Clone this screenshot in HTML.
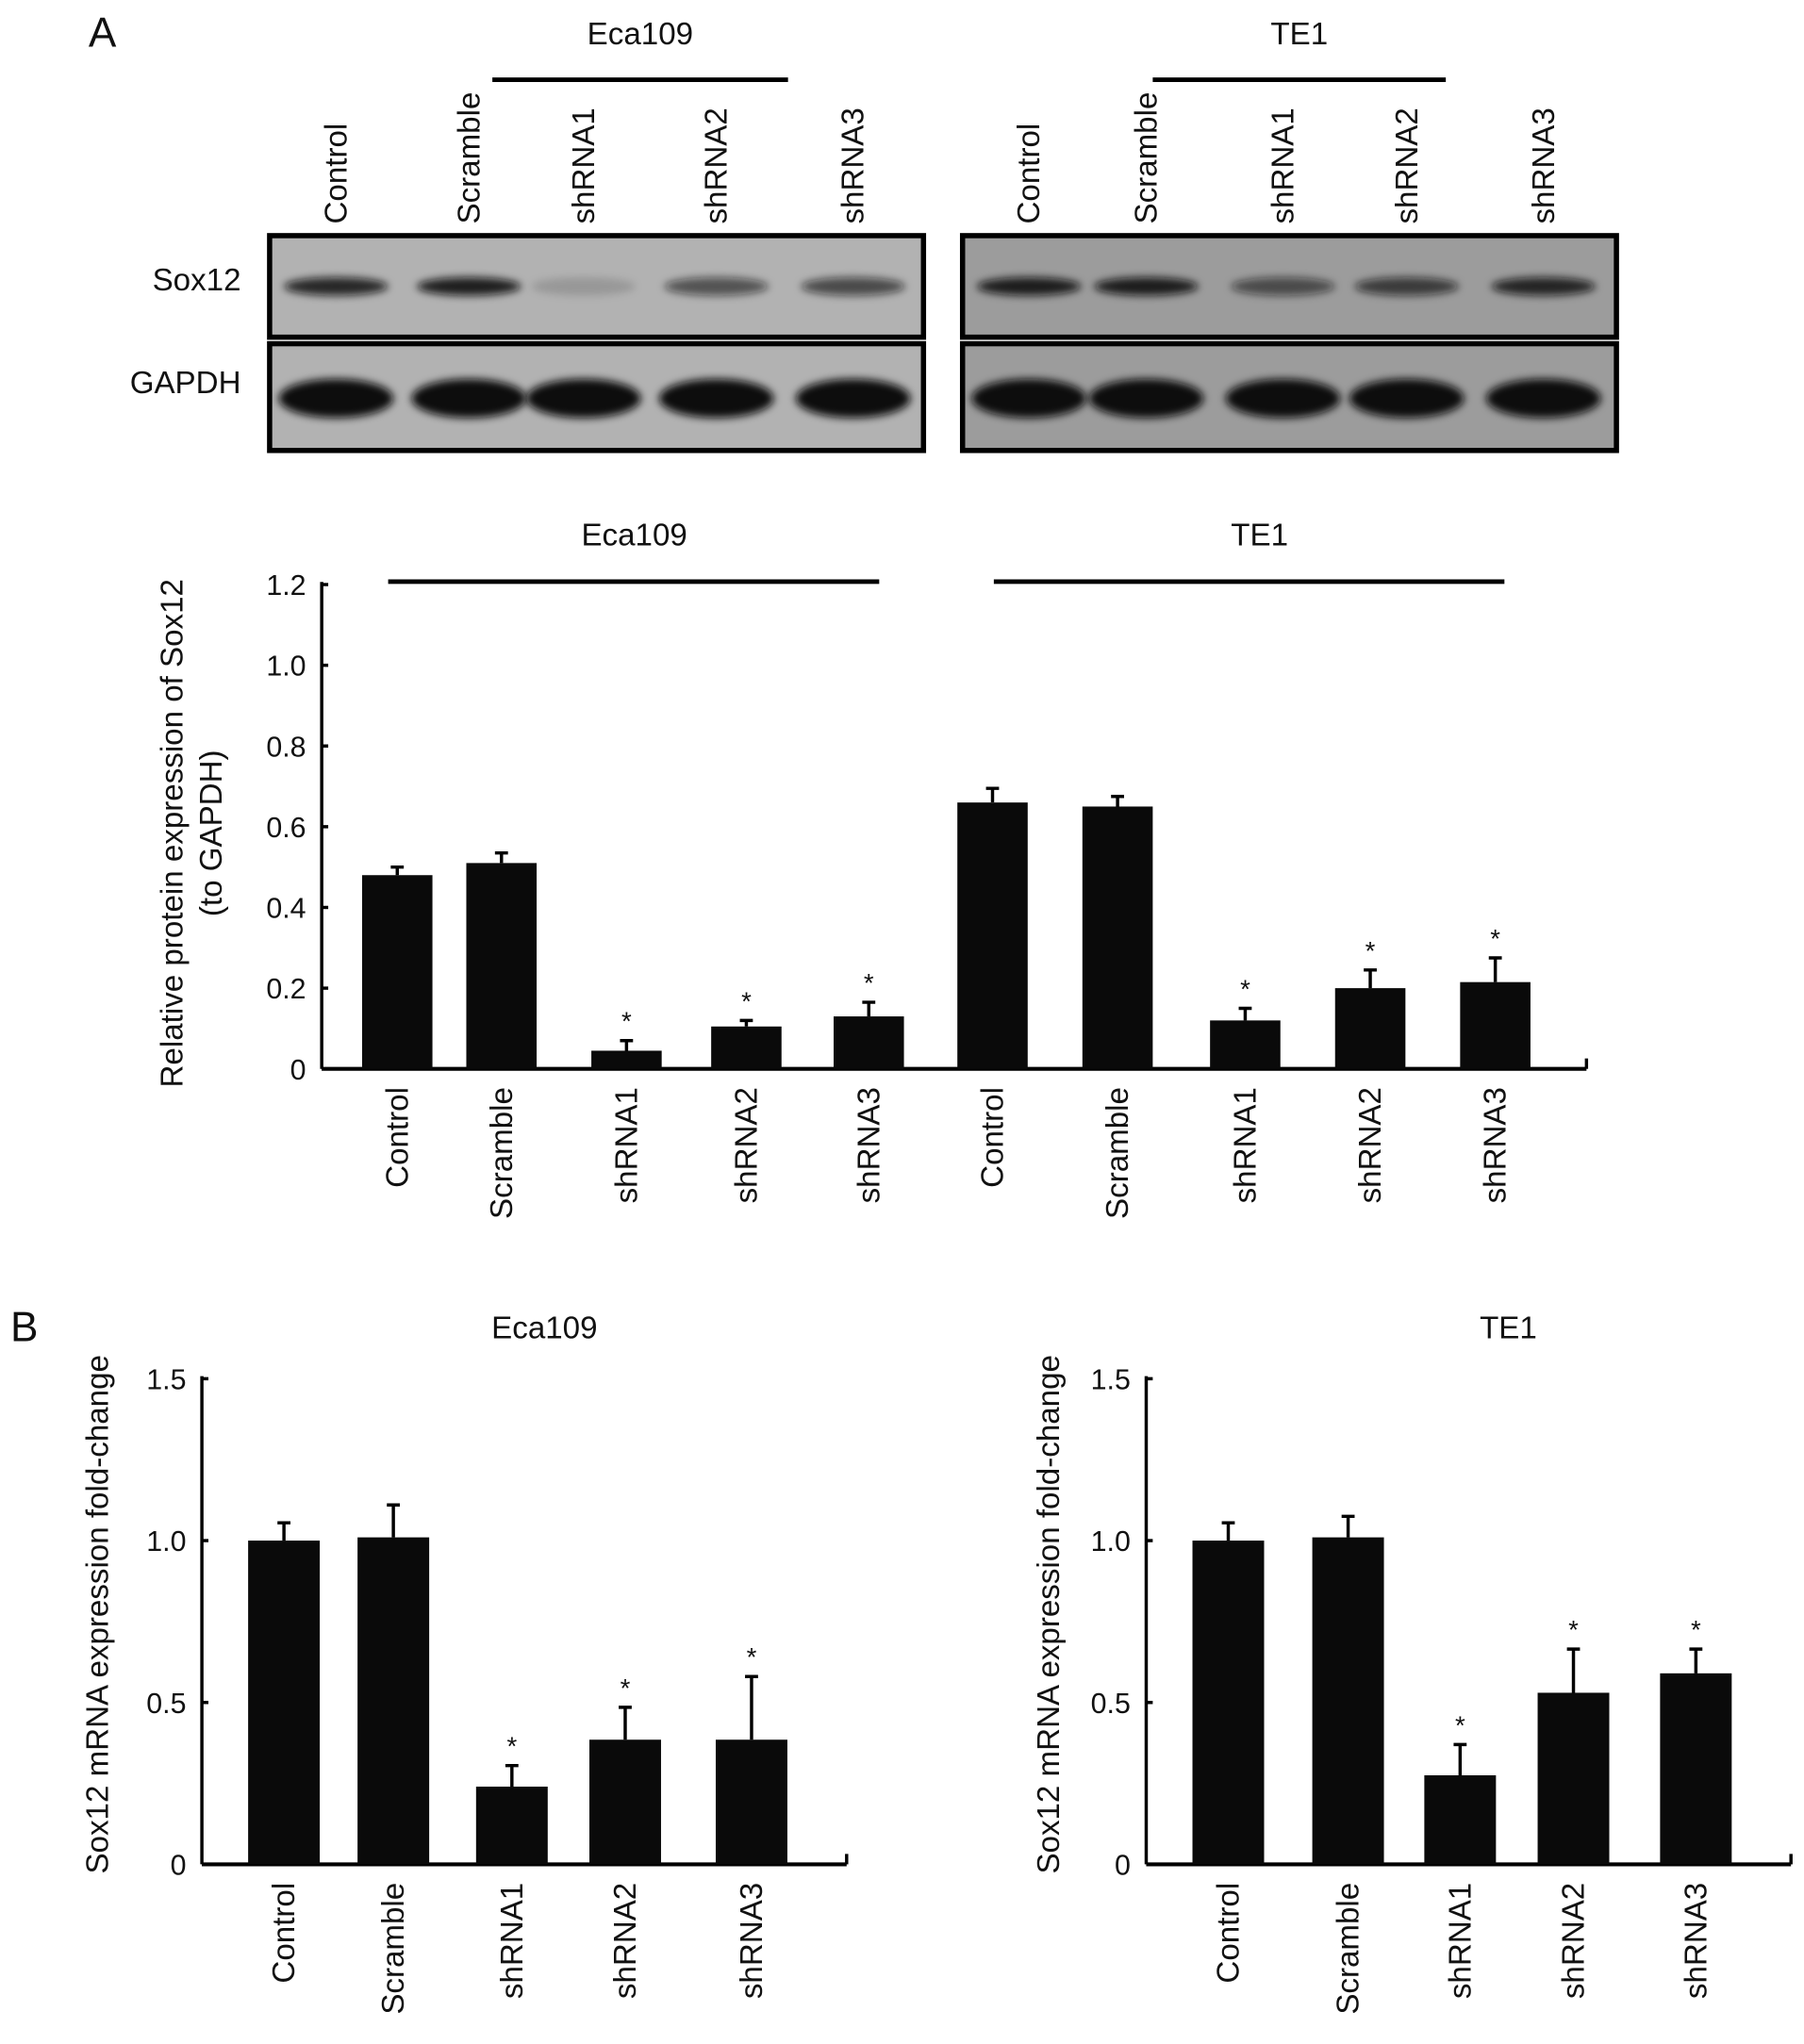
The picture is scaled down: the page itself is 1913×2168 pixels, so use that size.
<!DOCTYPE html>
<html><head><meta charset="utf-8"><style>
html,body{margin:0;padding:0;background:#fff;}
svg{display:block;}
text{font-family:"Liberation Sans",sans-serif;fill:#111;}
</style></head><body>
<svg id="fig" width="1913" height="2168" viewBox="0 0 1385 1570" preserveAspectRatio="none" xmlns="http://www.w3.org/2000/svg">
<defs><filter id="blur" x="-20%" y="-50%" width="140%" height="200%"><feGaussianBlur stdDeviation="3"/></filter></defs>
<g id="root"></g>
</svg>
<script>
const groups = ["Control","Scramble","shRNA1","shRNA2","shRNA3"];
// Panel A (protein) values
const aEcaVals = [0.48,0.51,0.045,0.105,0.13];
const aEcaErr  = [0.02,0.025,0.025,0.015,0.035];
const aTeVals  = [0.66,0.65,0.12,0.20,0.215];
const aTeErr   = [0.035,0.025,0.03,0.045,0.06];
const aTicks = [0,0.2,0.4,0.6,0.8,1.0,1.2];
const aTickLabels = ["0","0.2","0.4","0.6","0.8","1.0","1.2"];
const aSig = [false,false,true,true,true];
// Panel B (mRNA) values
const bEcaVals = [1.0,1.01,0.24,0.385,0.385];
const bEcaErr  = [0.055,0.10,0.065,0.10,0.195];
const bTeVals  = [1.0,1.01,0.275,0.53,0.59];
const bTeErr   = [0.055,0.065,0.095,0.135,0.075];
const bTicks = [0,0.5,1.0,1.5];
const bTickLabels = ["0","0.5","1.0","1.5"];
// Blot intensities (0-1)
const sox12Eca = [0.85,0.9,0.15,0.6,0.65];
const sox12Te = [0.9,0.9,0.6,0.7,0.85];

const NS="http://www.w3.org/2000/svg";
const root=document.getElementById('root');
function el(tag,attrs,parent){const e=document.createElementNS(NS,tag);for(const k in attrs)e.setAttribute(k,attrs[k]);(parent||root).appendChild(e);return e;}
function txt(x,y,s,size,anchor,rot,parent){const t=el('text',{x:x,y:y,'font-size':size,'text-anchor':anchor||'middle'},parent);if(rot)t.setAttribute('transform','rotate(-90 '+x+' '+y+')');t.textContent=s;return t;}

// Panel letters
let t=txt(68,36,"A",32,'start');


t=txt(8,1030,"B",32,'start');



// ---- Western blots ----
function blot(x0,lanes,title,lineX1,lineX2,bg,sox,name){
  const g=el('g',{});
  
  
  txt((lineX1+lineX2)/2,34,title,24,'middle',false,g);
  el('rect',{x:lineX1,y:59.5,width:lineX2-lineX1,height:3.5,fill:'#000'},g);
  groups.forEach((gname,i)=>{const l=txt(lanes[i]+8,172,gname,24,'start',true,g);
    
    });
  const boxes=[[181,78],[264,82]];
  boxes.forEach((b,bi)=>{
    el('rect',{x:x0,y:b[0],width:502,height:b[1],fill:bg,stroke:'#000','stroke-width':4},g);
    groups.forEach((_,i)=>{
      if(bi===0){
        const a=sox[i];
        el('ellipse',{cx:lanes[i],cy:220,rx:40,ry:7,fill:'#111','fill-opacity':a,filter:'url(#blur)'},g);
      }else{
        el('ellipse',{cx:lanes[i],cy:306,rx:44,ry:15,fill:'#0a0a0a',filter:'url(#blur)'},g);
      }
    });
  });
  return g;
}
blot(207,[258,360,448,550,655],"Eca109",378,605,'#b2b2b2',sox12Eca,'eca109-western-blot');
blot(739,[790,880,985,1080,1185],"TE1",885,1110,'#9c9c9c',sox12Te,'te1-western-blot');
t=txt(185,223,"Sox12",24,'end');


t=txt(185,302,"GAPDH",24,'end');



// ---- Bar chart helper ----
function barChart(o){
  const g=el('g',{});
  
  
  const y=v=>o.y0-(v-0)/(o.ymax)*(o.y0-o.ytop);
  // axes
  el('line',{x1:o.ax,y1:o.ytop-2,x2:o.ax,y2:o.y0,stroke:'#000','stroke-width':2.5},g);
  el('line',{x1:o.ax,y1:o.y0,x2:o.axEnd,y2:o.y0,stroke:'#000','stroke-width':3},g);
  el('line',{x1:o.axEnd,y1:o.y0,x2:o.axEnd,y2:o.y0-8,stroke:'#000','stroke-width':2.5},g);
  o.ticks.forEach((v,i)=>{
    const ty=y(v);
    el('line',{x1:o.ax,y1:ty,x2:o.ax+5,y2:ty,stroke:'#000','stroke-width':2.5},g);
    const l=txt(o.ax-12,ty+8,o.tickLabels[i],22,'end',false,g);
    
    
  });
  o.series.forEach(s=>{
    s.vals.forEach((v,i)=>{
      const cx=s.centers[i], w=o.bw;
      const r=el('rect',{x:cx-w/2,y:y(v),width:w,height:o.y0-y(v),fill:'#0a0a0a'},g);
      
      
      const top=y(v+s.err[i]);
      const e=el('path',{d:'M'+cx+' '+y(v)+'V'+top+'M'+(cx-5)+' '+top+'H'+(cx+5),stroke:'#000','stroke-width':2.5,fill:'none'},g);
      
      
      if(s.sig[i]){const st=txt(cx,top-8,"*",20,'middle',false,g);
        
        }
      const l=txt(cx+8,o.y0+14,groups[i],24,'end',true,g);
      
      
    });
  });
  return g;
}

// Panel A chart
barChart({name:'protein-bar-chart',ax:247,axEnd:1218,y0:821,ytop:449,ymax:1.2,ticks:aTicks,tickLabels:aTickLabels,bw:54,
  series:[{key:'eca109',vals:aEcaVals,err:aEcaErr,sig:aSig,centers:[305,385,481,573,667]},
          {key:'te1',vals:aTeVals,err:aTeErr,sig:aSig,centers:[762,858,956,1052,1148]}]});
t=txt(487,419,"Eca109",24);
t=txt(967,419,"TE1",24);
let ln=el('rect',{x:298,y:445,width:377,height:3.5,fill:'#000'});
ln=el('rect',{x:763,y:445,width:392,height:3.5,fill:'#000'});
t=txt(140,640,"Relative protein expression of Sox12",24,'middle',true);
t=txt(170,640,"(to GAPDH)",24,'middle',true);

// Panel B charts
barChart({name:'mrna-eca109-chart',ax:155,axEnd:650,y0:1432,ytop:1059,ymax:1.5,ticks:bTicks,tickLabels:bTickLabels,bw:55,
  series:[{key:'eca109',vals:bEcaVals,err:bEcaErr,sig:aSig,centers:[218,302,393,480,577]}]});
barChart({name:'mrna-te1-chart',ax:880,axEnd:1375,y0:1432,ytop:1059,ymax:1.5,ticks:bTicks,tickLabels:bTickLabels,bw:55,
  series:[{key:'te1',vals:bTeVals,err:bTeErr,sig:aSig,centers:[943,1035,1121,1208,1302]}]});
t=txt(418,1028,"Eca109",24);
t=txt(1158,1028,"TE1",24);
t=txt(83,1240,"Sox12 mRNA expression fold-change",24,'middle',true);
t=txt(813,1240,"Sox12 mRNA expression fold-change",24,'middle',true);
</script>
</body></html>
